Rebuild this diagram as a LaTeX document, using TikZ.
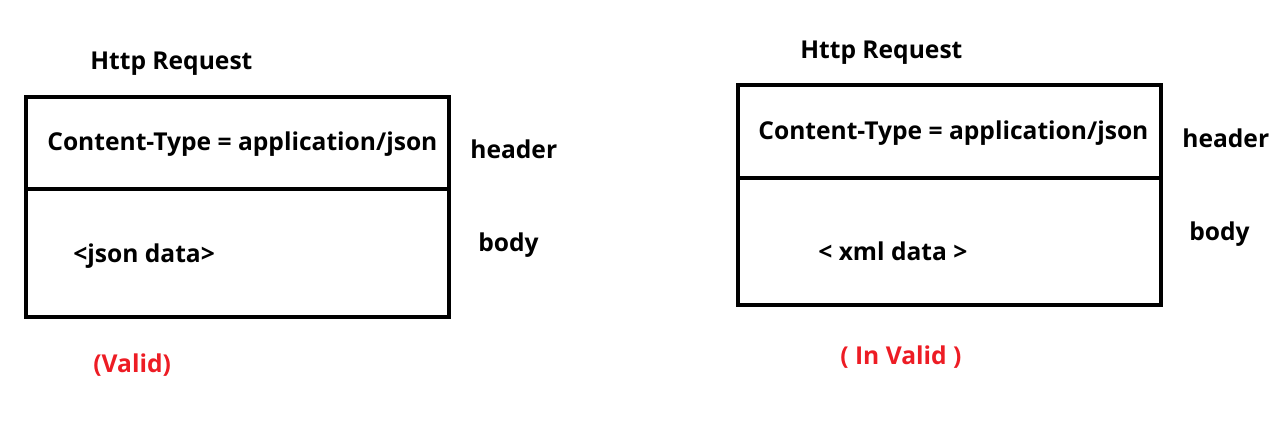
\documentclass[tikz,border=0pt]{standalone}
\usepackage{fontspec}
\setmainfont{Open Sans}
\definecolor{validred}{RGB}{237,28,36}

\begin{document}
\begin{tikzpicture}[x=0.02cm,y=-0.02cm,
   lbl/.style={anchor=west,inner sep=0pt,font=\bfseries\fontsize{14}{16}\selectfont},
   verdict/.style={lbl,text=validred},
   frame/.style={line width=2pt}]
   \useasboundingbox (0,0) rectangle (1280,423);
   % left request
   \draw[frame] (26,97) rectangle (449,317);
   \draw[frame] (26,189) -- (449,189);
   \node (lt) at ( 90, 64) [lbl] {Http Request};
   \node (lh) at ( 47,144) [lbl] {Content-Type = application/json};
   \node (lb) at ( 73,256) [lbl] {<json data>};
   \node (lx) at (470,149) [lbl] {header};
   \node (ly) at (478,245) [lbl] {body};
   \node (lv) at ( 93,365) [verdict] {(Valid)};
   % right request
   \draw[frame] (738,85) rectangle (1161,305);
   \draw[frame] (738,178) -- (1161,178);
   \node (rt) at ( 800, 53) [lbl] {Http Request};
   \node (rh) at ( 758,133) [lbl] {Content-Type = application/json};
   \node (rb) at ( 818,251) [lbl] {< xml data >};
   \node (rx) at (1182,138) [lbl] {header};
   \node (ry) at (1189,234) [lbl] {body};
   \node (rv) at ( 840,357) [verdict] {( In Valid )};
\end{tikzpicture}
\end{document}
